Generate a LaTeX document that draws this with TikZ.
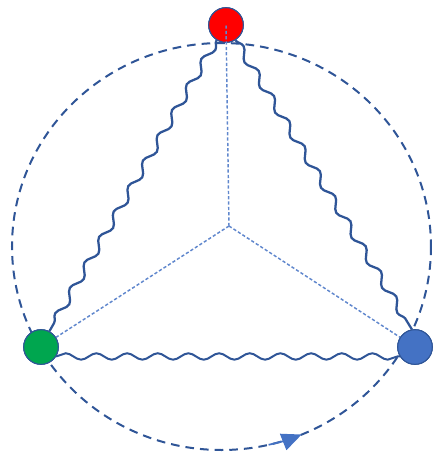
\documentclass[tikz,border=0pt]{standalone}
\usetikzlibrary{decorations.pathmorphing,arrows.meta,calc}
\definecolor{darkblue}{HTML}{2F5597}
\definecolor{midblue}{HTML}{4472C4}
\definecolor{nodered}{HTML}{FF0000}
\definecolor{nodegreen}{HTML}{00A64F}
\begin{document}
\begin{tikzpicture}[x=0.75pt,y=-0.75pt,
  ball/.style={circle,draw=darkblue,line width=0.8pt,minimum size=26pt,inner sep=0pt},
  spoke/.style={draw=midblue!85,line width=1.1pt,dash pattern=on 2.4pt off 1.6pt},
  wave/.style={draw=darkblue,line width=1.7pt,decorate,decoration={snake,segment length=22pt,amplitude=2.9pt}},
  orbit/.style={draw=darkblue,line width=1.5pt,dash pattern=on 6.5pt off 4.5pt}]
\useasboundingbox (0,0) rectangle (433,455);
\coordinate (c) at (221.5,246.5);
\coordinate (o) at (229,226);
\draw[orbit] (c) ellipse [x radius=209.5, y radius=203.5];
\draw[midblue,line width=1.3pt,-{Triangle[length=15pt,width=13pt]}] ($(c)+(77:209.5 and 203.5)$) arc[start angle=77,end angle=67.5,x radius=209.5,y radius=203.5];
\node[ball,fill=nodered] (r) at (226,25) {};
\node[ball,fill=nodegreen] (g) at (41,347) {};
\node[ball,fill=midblue] (b) at (415,347) {};
\draw[spoke] (o) -- (g.center);
\draw[spoke] (o) -- (b.center);
\draw[wave] (r.-122) -- (g.62);
\draw[wave] (r.-58) -- (b.100);
\draw[wave,line width=1.5pt,decoration={snake,segment length=23pt,amplitude=2.4pt}] (g.-32) -- (b.212);
\node[ball,fill=nodered] at (r) {};
\node[ball,fill=nodegreen] at (g) {};
\node[ball,fill=midblue] at (b) {};
\draw[spoke] (o) -- (r.center);
\end{tikzpicture}
\end{document}
